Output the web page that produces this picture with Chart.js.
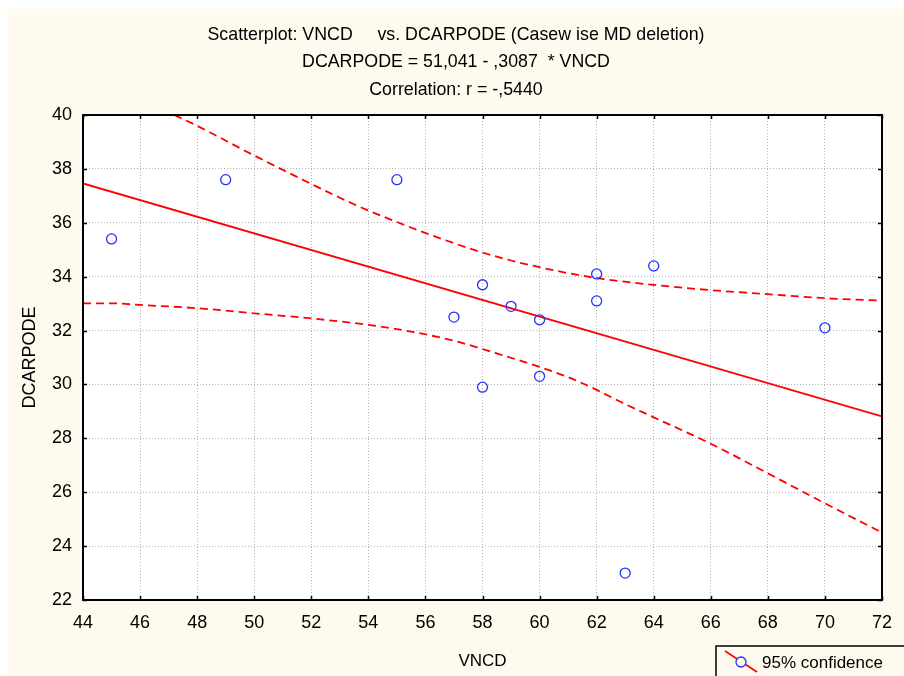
<!DOCTYPE html>
<html>
<head>
<meta charset="utf-8">
<script src="https://cdn.jsdelivr.net/npm/chart.js@4"></script>
<style>
  html, body { margin: 0; padding: 0; background: #ffffff; }
  canvas { display: block; }
</style>
</head>
<body>
<canvas id="js-scatter" width="904" height="676"></canvas>
<script>
// Observed cases
const vncd = [45, 49, 55, 57, 58, 58, 59, 60, 60, 62, 62, 63, 64, 70];
const dcarpode = [35.4, 37.6, 37.6, 32.5, 33.7, 29.9, 32.9, 32.4, 30.3, 34.1, 33.1, 23.0, 34.4, 32.1];

// Fitted line end points
const fitX = [44, 72];
const fitY = [37.46, 28.81];

// Upper 95% band
const upperX = [47.2, 48.0, 49.9, 51.6, 53.0, 53.9, 54.9, 55.8, 56.9, 57.9, 59.0, 60.0, 61.0, 62.0, 63.5, 66.0, 68.0, 70.0, 72.0];
const upperY = [40.0, 39.6, 38.55, 37.65, 36.93, 36.50, 36.07, 35.70, 35.28, 34.93, 34.60, 34.35, 34.13, 33.95, 33.75, 33.50, 33.35, 33.20, 33.11];

// Lower 95% band
const lowerX = [44, 45, 46, 48, 50, 52, 54, 55.5, 57.0, 58.5, 60.0, 61.0, 62.0, 62.9, 64.0, 66.0, 68.0, 70.0, 72.0];
const lowerY = [33.01, 33.01, 32.95, 32.83, 32.64, 32.45, 32.21, 31.96, 31.62, 31.15, 30.65, 30.27, 29.80, 29.32, 28.78, 27.80, 26.70, 25.59, 24.50];

// Axis ticks
const xTicks = [44, 46, 48, 50, 52, 54, 56, 58, 60, 62, 64, 66, 68, 70, 72];
const yTicks = [22, 24, 26, 28, 30, 32, 34, 36, 38, 40];

const titleLines = [
  'Scatterplot: VNCD     vs. DCARPODE (Casew ise MD deletion)',
  'DCARPODE = 51,041 - ,3087  * VNCD',
  'Correlation: r = -,5440'
];

const FONT = 'Liberation Sans, Arial, sans-serif';

function pairs(xs, ys) {
  return xs.map((x, i) => ({ x: x, y: ys[i] }));
}

// cream page + white plot area
const backgroundPlugin = {
  id: 'background',
  beforeDraw(chart) {
    const { ctx, chartArea } = chart;
    ctx.save();
    ctx.fillStyle = '#ffffff';
    ctx.fillRect(0, 0, chart.width, chart.height);
    ctx.fillStyle = '#fffaee';
    ctx.fillRect(8, 9, chart.width - 8, chart.height - 9);
    ctx.fillStyle = '#ffffff';
    ctx.fillRect(chartArea.left, chartArea.top, chartArea.right - chartArea.left, chartArea.bottom - chartArea.top);
    ctx.restore();
  }
};

// black frame with inward ticks on all four sides
const framePlugin = {
  id: 'frame',
  afterDatasetsDraw(chart) {
    const { ctx, chartArea, scales } = chart;
    const { left, right, top, bottom } = chartArea;
    ctx.save();
    ctx.strokeStyle = '#000000';
    ctx.lineWidth = 2;
    ctx.strokeRect(left, top, right - left, bottom - top);
    ctx.lineWidth = 1.5;
    ctx.beginPath();
    xTicks.forEach(v => {
      const px = Math.round(scales.x.getPixelForValue(v)) + 0.5;
      ctx.moveTo(px, bottom); ctx.lineTo(px, bottom - 4);
      ctx.moveTo(px, top); ctx.lineTo(px, top + 4);
    });
    yTicks.forEach(v => {
      const py = Math.round(scales.y.getPixelForValue(v)) + 0.5;
      ctx.moveTo(left, py); ctx.lineTo(left + 4, py);
      ctx.moveTo(right, py); ctx.lineTo(right - 4, py);
    });
    ctx.stroke();
    ctx.restore();
  }
};

// legend box in the bottom right corner
const legendPlugin = {
  id: 'boxLegend',
  afterDraw(chart) {
    const ctx = chart.ctx;
    ctx.save();
    ctx.fillStyle = '#fffaee';
    ctx.fillRect(716, 646, 200, 40);
    ctx.strokeStyle = '#000000';
    ctx.lineWidth = 1.5;
    ctx.strokeRect(716, 646, 200, 40);
    ctx.strokeStyle = '#ff0000';
    ctx.lineWidth = 1.6;
    ctx.beginPath();
    ctx.moveTo(725, 651);
    ctx.lineTo(757, 672);
    ctx.stroke();
    ctx.fillStyle = '#fffaee';
    ctx.strokeStyle = '#2233ff';
    ctx.lineWidth = 1.3;
    ctx.beginPath();
    ctx.arc(741, 662, 5, 0, Math.PI * 2);
    ctx.fill();
    ctx.stroke();
    ctx.fillStyle = '#000000';
    ctx.font = '17px ' + FONT;
    ctx.textBaseline = 'middle';
    ctx.textAlign = 'left';
    ctx.fillText('95% confidence', 762, 663);
    ctx.restore();
  }
};

const gridOpts = { color: '#b4b4b4', lineWidth: 1, drawTicks: false };

const config = {
  type: 'scatter',
  data: {
    datasets: [
      {
        label: 'DCARPODE',
        data: pairs(vncd, dcarpode),
        pointRadius: 5,
        pointHoverRadius: 5,
        pointBorderWidth: 1.3,
        pointBorderColor: '#2233ff',
        pointBackgroundColor: 'rgba(0,0,0,0)',
        showLine: false,
        order: 0
      },
      {
        label: 'fit',
        data: pairs(fitX, fitY),
        showLine: true,
        borderColor: '#ff0000',
        borderWidth: 1.8,
        pointRadius: 0,
        order: 1
      },
      {
        label: 'upper',
        data: pairs(upperX, upperY),
        showLine: true,
        borderColor: '#ff0000',
        borderWidth: 1.8,
        borderDash: [8, 5],
        cubicInterpolationMode: 'monotone',
        pointRadius: 0,
        order: 2
      },
      {
        label: 'lower',
        data: pairs(lowerX, lowerY),
        showLine: true,
        borderColor: '#ff0000',
        borderWidth: 1.8,
        borderDash: [8, 5],
        cubicInterpolationMode: 'monotone',
        pointRadius: 0,
        order: 2
      }
    ]
  },
  options: {
    responsive: false,
    animation: false,
    devicePixelRatio: 1,
    layout: { padding: { left: 8, right: 0, top: 0, bottom: 0 } },
    plugins: {
      legend: { display: false },
      tooltip: { enabled: false },
      title: {
        display: true,
        text: titleLines,
        color: '#000000',
        font: { family: FONT, size: 17.8, weight: 'normal', lineHeight: '27.5px' },
        padding: { top: 21, bottom: 11.5 }
      }
    },
    scales: {
      x: {
        type: 'linear',
        min: 44,
        max: 72,
        grid: gridOpts,
        border: { display: false, dash: [1, 2] },
        ticks: {
          stepSize: 2,
          color: '#000000',
          padding: 12,
          font: { family: FONT, size: 18 }
        },
        title: {
          display: true,
          text: 'VNCD',
          color: '#000000',
          font: { family: FONT, size: 17 },
          align: 'center',
          padding: { top: 0, bottom: 4.5 }
        },
        afterFit(scale) {
          scale.height = 76;
          scale.paddingLeft = 0;
          scale.paddingRight = 0;
        }
      },
      y: {
        type: 'linear',
        min: 22,
        max: 40,
        grid: gridOpts,
        border: { display: false, dash: [1, 2] },
        ticks: {
          stepSize: 2,
          color: '#000000',
          padding: 11,
          font: { family: FONT, size: 18 }
        },
        title: {
          display: true,
          text: 'DCARPODE',
          color: '#000000',
          font: { family: FONT, size: 18 },
          padding: { top: 11.2, bottom: 0 }
        },
        afterFit(scale) {
          scale.width = 75;
          scale.paddingTop = 0;
          scale.paddingBottom = 0;
        }
      },
      yr: {
        type: 'linear',
        position: 'right',
        min: 22,
        max: 40,
        grid: { display: false },
        border: { display: false },
        ticks: { display: false },
        afterFit(scale) {
          scale.width = 22;
          scale.paddingTop = 0;
          scale.paddingBottom = 0;
        }
      }
    }
  },
  plugins: [backgroundPlugin, framePlugin, legendPlugin]
};

const scatterChart = new Chart(document.getElementById('js-scatter').getContext('2d'), config);
</script>
</body>
</html>
